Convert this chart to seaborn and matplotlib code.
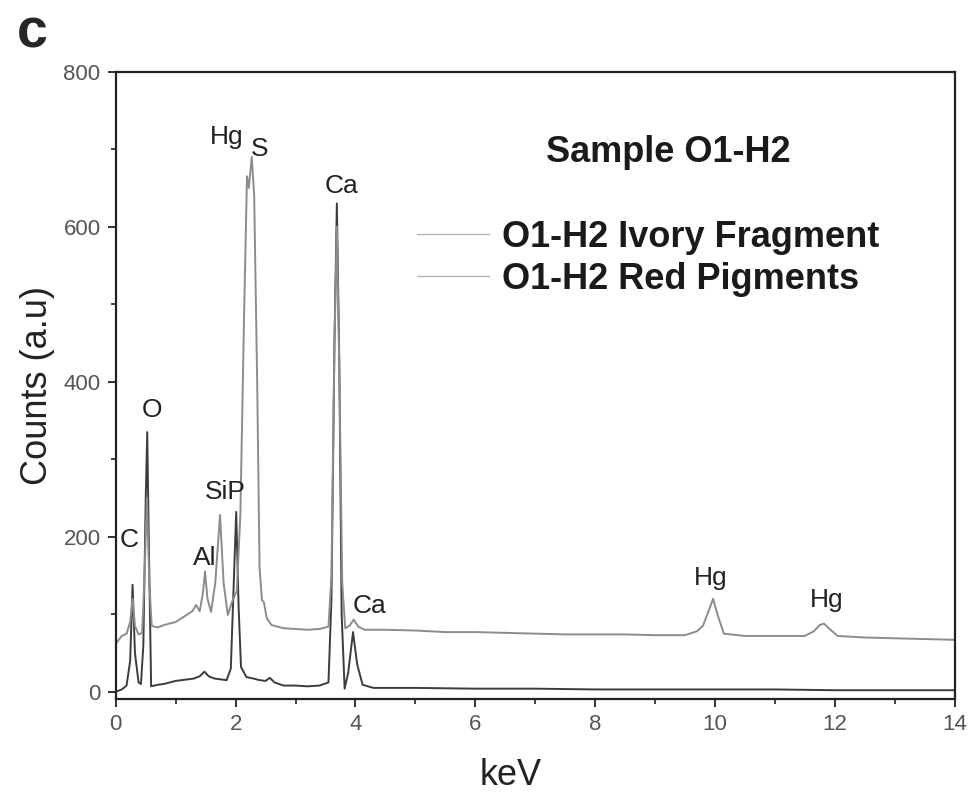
import numpy as np
import pandas as pd
import matplotlib
matplotlib.use("Agg")
import matplotlib.pyplot as plt
from matplotlib.ticker import MultipleLocator
import seaborn as sns

# ── Spectrum points (keV, counts) ───────────────────────────────
red_kev = [0.00, 0.10, 0.18, 0.24, 0.28, 0.32, 0.38, 0.44, 0.48, 0.52, 0.56,
           0.60, 0.70, 0.80, 0.90, 1.00, 1.10, 1.20, 1.28, 1.34, 1.40, 1.45,
           1.49, 1.53, 1.59, 1.66, 1.74, 1.80, 1.87, 1.95, 2.02, 2.08, 2.14,
           2.19, 2.22, 2.27, 2.31, 2.36, 2.40, 2.44, 2.47, 2.52, 2.60, 2.80,
           3.00, 3.20, 3.40, 3.55, 3.60, 3.65, 3.69, 3.73, 3.78, 3.83, 3.90,
           3.97, 4.05, 4.15, 4.50, 5.00, 5.50, 6.00, 6.50, 7.00, 7.50, 8.00,
           8.50, 9.00, 9.50, 9.70, 9.80, 9.90, 9.97, 10.05, 10.15, 10.50,
           11.00, 11.50, 11.65, 11.75, 11.82, 11.90, 12.05, 12.50, 13.00,
           13.50, 14.00]
red_counts = [62, 72, 75, 90, 120, 85, 74, 76, 150, 250, 140,
              85, 83, 86, 88, 90, 95, 100, 104, 112, 104, 125,
              155, 120, 103, 140, 228, 140, 99, 118, 130, 230, 480,
              665, 650, 690, 640, 400, 160, 118, 116, 95, 86, 82,
              81, 80, 81, 84, 150, 450, 600, 420, 140, 82, 85,
              93, 84, 80, 80, 79, 77, 77, 76, 75, 74, 74,
              74, 73, 73, 78, 85, 105, 120, 98, 75, 72,
              72, 72, 78, 86, 88, 82, 72, 70, 69,
              68, 67]

ivory_kev = [0.00, 0.10, 0.18, 0.24, 0.28, 0.32, 0.38, 0.42, 0.46, 0.50, 0.525,
             0.55, 0.59, 0.70, 0.80, 0.90, 1.00, 1.10, 1.20, 1.30, 1.40, 1.48,
             1.55, 1.65, 1.75, 1.85, 1.92, 1.96, 2.01, 2.05, 2.09, 2.18, 2.30,
             2.40, 2.50, 2.57, 2.65, 2.80, 3.00, 3.20, 3.40, 3.55, 3.60, 3.65,
             3.69, 3.73, 3.77, 3.82, 3.88, 3.96, 4.03, 4.12, 4.30, 5.00, 6.00,
             7.00, 8.00, 9.00, 10.00, 11.00, 12.00, 13.00, 14.00]
ivory_counts = [0, 3, 8, 40, 138, 50, 12, 10, 60, 250, 335,
                200, 7, 9, 10, 12, 14, 15, 16, 17, 20, 26,
                20, 17, 16, 15, 30, 120, 232, 110, 32, 19, 17,
                15, 14, 18, 12, 8, 8, 7, 8, 12, 120, 450,
                630, 430, 100, 4, 25, 77, 35, 9, 5, 5, 4,
                4, 3, 3, 3, 3, 2, 2, 2]

# peak labels: (text, keV, counts)
peak_text = ["C", "O", "Al", "SiP", "Hg", "S", "Ca", "Ca", "Hg", "Hg"]
peak_x = [0.23, 0.60, 1.48, 1.82, 1.85, 2.40, 3.77, 4.23, 9.93, 11.87]
peak_y = [196, 364, 173, 258, 716, 700, 652, 111, 147, 119]

series_names = ["O1-H2 Ivory Fragment", "O1-H2 Red Pigments"]

df = pd.concat([
    pd.DataFrame({"keV": ivory_kev, "counts": ivory_counts, "sample": series_names[0]}),
    pd.DataFrame({"keV": red_kev, "counts": red_counts, "sample": series_names[1]}),
], ignore_index=True)

sns.set_style("ticks")
plt.rcParams["font.family"] = ["Liberation Sans", "DejaVu Sans"]

fig = plt.figure(figsize=(9.73, 8.05), dpi=100)
ax = fig.add_axes([0.119, 0.132, 0.862, 0.779])

sns.lineplot(data=df, x="keV", y="counts", hue="sample", sort=False,
             palette={series_names[0]: "#3c3c3c", series_names[1]: "#8c8c8c"},
             linewidth=1.4, ax=ax, estimator=None)

ax.set_xlim(0, 14)
ax.set_ylim(-9, 800)
ax.xaxis.set_major_locator(MultipleLocator(2))
ax.xaxis.set_minor_locator(MultipleLocator(1))
ax.yaxis.set_major_locator(MultipleLocator(200))
ax.yaxis.set_minor_locator(MultipleLocator(100))
ax.tick_params(which="major", direction="out", length=6, width=1.3,
               labelsize=16, labelcolor="#555555", color="#222222", pad=5)
ax.tick_params(which="minor", direction="out", length=3.5, width=1.2, color="#222222")
for sp in ax.spines.values():
    sp.set_visible(True)
    sp.set_linewidth(1.6)
    sp.set_color("#222222")

ax.set_xlabel("keV", fontsize=26, color="#222222", labelpad=26)
ax.xaxis.set_label_coords(0.471, -0.095)
ax.set_ylabel("Counts (a.u)", fontsize=26, color="#222222", labelpad=6)

for t, x, y in zip(peak_text, peak_x, peak_y):
    ax.text(x, y, t, fontsize=19, ha="center", va="center", color="#222222")

ax.text(9.23, 696, "Sample O1-H2", fontsize=26, fontweight="bold",
        ha="center", va="center", color="#1a1a1a")

leg = ax.legend(loc="upper left", bbox_to_anchor=(0.359, 0.764), frameon=False,
                borderpad=0, borderaxespad=0, handlelength=2.0,
                handletextpad=0.35, labelspacing=0.2,
                prop={"size": 26, "weight": "bold"})
for txt in leg.get_texts():
    txt.set_color("#1a1a1a")
for ln in leg.get_lines():
    ln.set_linewidth(1.0)
    ln.set_color("#b5b5b5")

fig.text(0.033, 0.958, "c", fontsize=40, fontweight="bold", ha="center", va="center")

fig.savefig("out.png", dpi=100)
